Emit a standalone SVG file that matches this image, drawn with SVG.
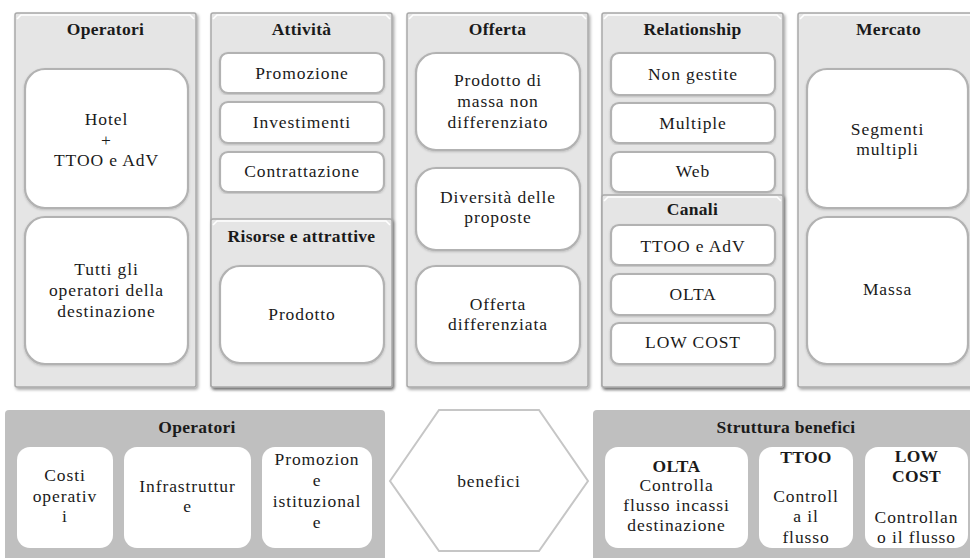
<svg xmlns="http://www.w3.org/2000/svg" width="970" height="558" viewBox="0 0 970 558">
  <defs>
    <filter id="sh" x="-5%" y="-5%" width="115%" height="115%">
      <feDropShadow dx="1.5" dy="2" stdDeviation="1.5" flood-color="#000" flood-opacity="0.35"/>
    </filter>
    <filter id="ish" x="-5%" y="-5%" width="110%" height="110%">
      <feDropShadow dx="0" dy="1" stdDeviation="0.8" flood-color="#000" flood-opacity="0.18"/>
    </filter>
  </defs>
  <style>
    .col { fill:#e5e5e5; stroke:#a9a9a9; stroke-width:1.5; filter:url(#sh); }
    .hl { fill:none; stroke:#ffffff; stroke-width:1.6; }
    .box { fill:#ffffff; stroke:#b2b2b2; stroke-width:2.2; filter:url(#ish); }
    .panel { fill:#bfbfbf; }
    .pbox { fill:#ffffff; }
    .hex { fill:#ffffff; stroke:#c6c6c6; stroke-width:2; }
    text { font-family:'Liberation Serif','Times New Roman',serif; font-size:17.5px; fill:#1a1a1a; text-anchor:middle; letter-spacing:0.9px; }
    .h { font-weight:bold; letter-spacing:0.3px; }
  </style>
  <rect width="970" height="558" fill="#ffffff"/>

  <g font-family="Liberation Serif">
  <!-- Column: Operatori -->
  <g id="col-operatori">
    <rect class="col" x="15" y="13" width="181" height="374" rx="2"/>
    <polyline class="hl" points="17,19 21,15 190,15 194,19"/>
    <text class="h" x="105.5" y="35">Operatori</text>
    <rect class="box" x="25" y="69" width="163" height="139" rx="20"/>
    <text x="106.5" y="125">Hotel</text>
    <text x="106.5" y="145.5">+</text>
    <text x="106.5" y="166">TTOO e AdV</text>
    <rect class="box" x="25" y="217" width="163" height="147" rx="20"/>
    <text x="106.5" y="275">Tutti gli</text>
    <text x="106.5" y="296">operatori della</text>
    <text x="106.5" y="317">destinazione</text>
  </g>

  <!-- Column: Attività / Risorse e attrattive -->
  <g id="col-attivita">
    <rect class="col" x="211" y="13" width="181" height="374" rx="2"/>
    <polyline class="hl" points="213,19 217,15 386,15 390,19"/>
    <text class="h" x="301.5" y="35">Attività</text>
    <rect class="box" x="220" y="53" width="164" height="40" rx="8"/>
    <text x="302" y="79">Promozione</text>
    <rect class="box" x="220" y="102" width="164" height="41" rx="8"/>
    <text x="302" y="128">Investimenti</text>
    <rect class="box" x="220" y="152" width="164" height="40" rx="8"/>
    <text x="302" y="177">Contrattazione</text>
  </g>
  <g id="sub-risorse">
    <rect class="col" x="211" y="219" width="181" height="168" rx="2"/>
    <polyline class="hl" points="213,225 217,221 386,221 390,225"/>
    <text class="h" x="301.5" y="242">Risorse e attrattive</text>
    <rect class="box" x="220" y="266" width="164" height="97" rx="20"/>
    <text x="302" y="320">Prodotto</text>
  </g>

  <!-- Column: Offerta -->
  <g id="col-offerta">
    <rect class="col" x="407" y="13" width="181" height="374" rx="2"/>
    <polyline class="hl" points="409,19 413,15 582,15 586,19"/>
    <text class="h" x="497.5" y="35">Offerta</text>
    <rect class="box" x="416" y="53" width="164" height="97" rx="20"/>
    <text x="498" y="86">Prodotto di</text>
    <text x="498" y="107">massa non</text>
    <text x="498" y="128">differenziato</text>
    <rect class="box" x="416" y="168" width="164" height="82" rx="20"/>
    <text x="498" y="203">Diversità delle</text>
    <text x="498" y="223">proposte</text>
    <rect class="box" x="416" y="266" width="164" height="97" rx="20"/>
    <text x="498" y="310">Offerta</text>
    <text x="498" y="330">differenziata</text>
  </g>

  <!-- Column: Relationship / Canali -->
  <g id="col-relationship">
    <rect class="col" x="602" y="13" width="181" height="374" rx="2"/>
    <polyline class="hl" points="604,19 608,15 777,15 781,19"/>
    <text class="h" x="692.5" y="35">Relationship</text>
    <rect class="box" x="611" y="53" width="164" height="42" rx="8"/>
    <text x="693" y="80">Non gestite</text>
    <rect class="box" x="611" y="103" width="164" height="40" rx="8"/>
    <text x="693" y="129">Multiple</text>
    <rect class="box" x="611" y="152" width="164" height="40" rx="8"/>
    <text x="693" y="177">Web</text>
  </g>
  <g id="sub-canali">
    <rect class="col" x="602" y="195" width="181" height="192" rx="2"/>
    <polyline class="hl" points="604,201 608,197 777,197 781,201"/>
    <text class="h" x="692.5" y="215">Canali</text>
    <rect class="box" x="611" y="225" width="164" height="40" rx="8"/>
    <text x="693" y="252">TTOO e AdV</text>
    <rect class="box" x="611" y="274" width="164" height="41" rx="8"/>
    <text x="693" y="300">OLTA</text>
    <rect class="box" x="611" y="323" width="164" height="41" rx="8"/>
    <text x="693" y="348">LOW COST</text>
  </g>

  <!-- Column: Mercato -->
  <g id="col-mercato">
    <rect class="col" x="798" y="13" width="181" height="374" rx="2"/>
    <polyline class="hl" points="800,19 804,15 975,15"/>
    <text class="h" x="888.5" y="35">Mercato</text>
    <rect class="box" x="807" y="69" width="161" height="139" rx="20"/>
    <text x="887.5" y="135">Segmenti</text>
    <text x="887.5" y="155">multipli</text>
    <rect class="box" x="807" y="217" width="161" height="147" rx="20"/>
    <text x="887.5" y="295">Massa</text>
  </g>

  <!-- Bottom panel: Operatori costs -->
  <g id="panel-operatori">
    <rect class="panel" x="5" y="410" width="380" height="160" rx="4"/>
    <text class="h" x="197" y="433">Operatori</text>
    <rect class="pbox" x="17" y="447" width="96" height="101" rx="13"/>
    <text x="65" y="481">Costi</text>
    <text x="65" y="502">operativ</text>
    <text x="65" y="522">i</text>
    <rect class="pbox" x="124" y="447" width="127" height="101" rx="13"/>
    <text x="187.5" y="492">Infrastruttur</text>
    <text x="187.5" y="512">e</text>
    <rect class="pbox" x="262" y="447" width="110" height="101" rx="13"/>
    <text x="317" y="465">Promozion</text>
    <text x="317" y="486">e</text>
    <text x="317" y="507">istituzional</text>
    <text x="317" y="528">e</text>
  </g>

  <!-- Hexagon: benefici -->
  <g id="hex-benefici">
    <polygon class="hex" points="390,481 439,410 539,410 588,481 539,551 439,551"/>
    <text x="489" y="487">benefici</text>
  </g>

  <!-- Bottom panel: Struttura benefici -->
  <g id="panel-struttura">
    <rect class="panel" x="593" y="410" width="390" height="160" rx="4"/>
    <text class="h" x="786" y="433">Struttura benefici</text>
    <rect class="pbox" x="605" y="447" width="143" height="101" rx="13"/>
    <text class="h" x="676.5" y="472">OLTA</text>
    <text x="676.5" y="491">Controlla</text>
    <text x="676.5" y="511">flusso incassi</text>
    <text x="676.5" y="531">destinazione</text>
    <rect class="pbox" x="759" y="447" width="94" height="101" rx="13"/>
    <text class="h" x="806" y="463">TTOO</text>
    <text x="806" y="502">Controll</text>
    <text x="806" y="522">a il</text>
    <text x="806" y="543">flusso</text>
    <rect class="pbox" x="865" y="447" width="103" height="101" rx="13"/>
    <text class="h" x="916.5" y="462">LOW</text>
    <text class="h" x="916.5" y="482">COST</text>
    <text x="916.5" y="523">Controllan</text>
    <text x="916.5" y="543">o il flusso</text>
  </g>
  </g>

  <!-- No connectors in this layout -->
  <g id="connectors"></g>
</svg>
